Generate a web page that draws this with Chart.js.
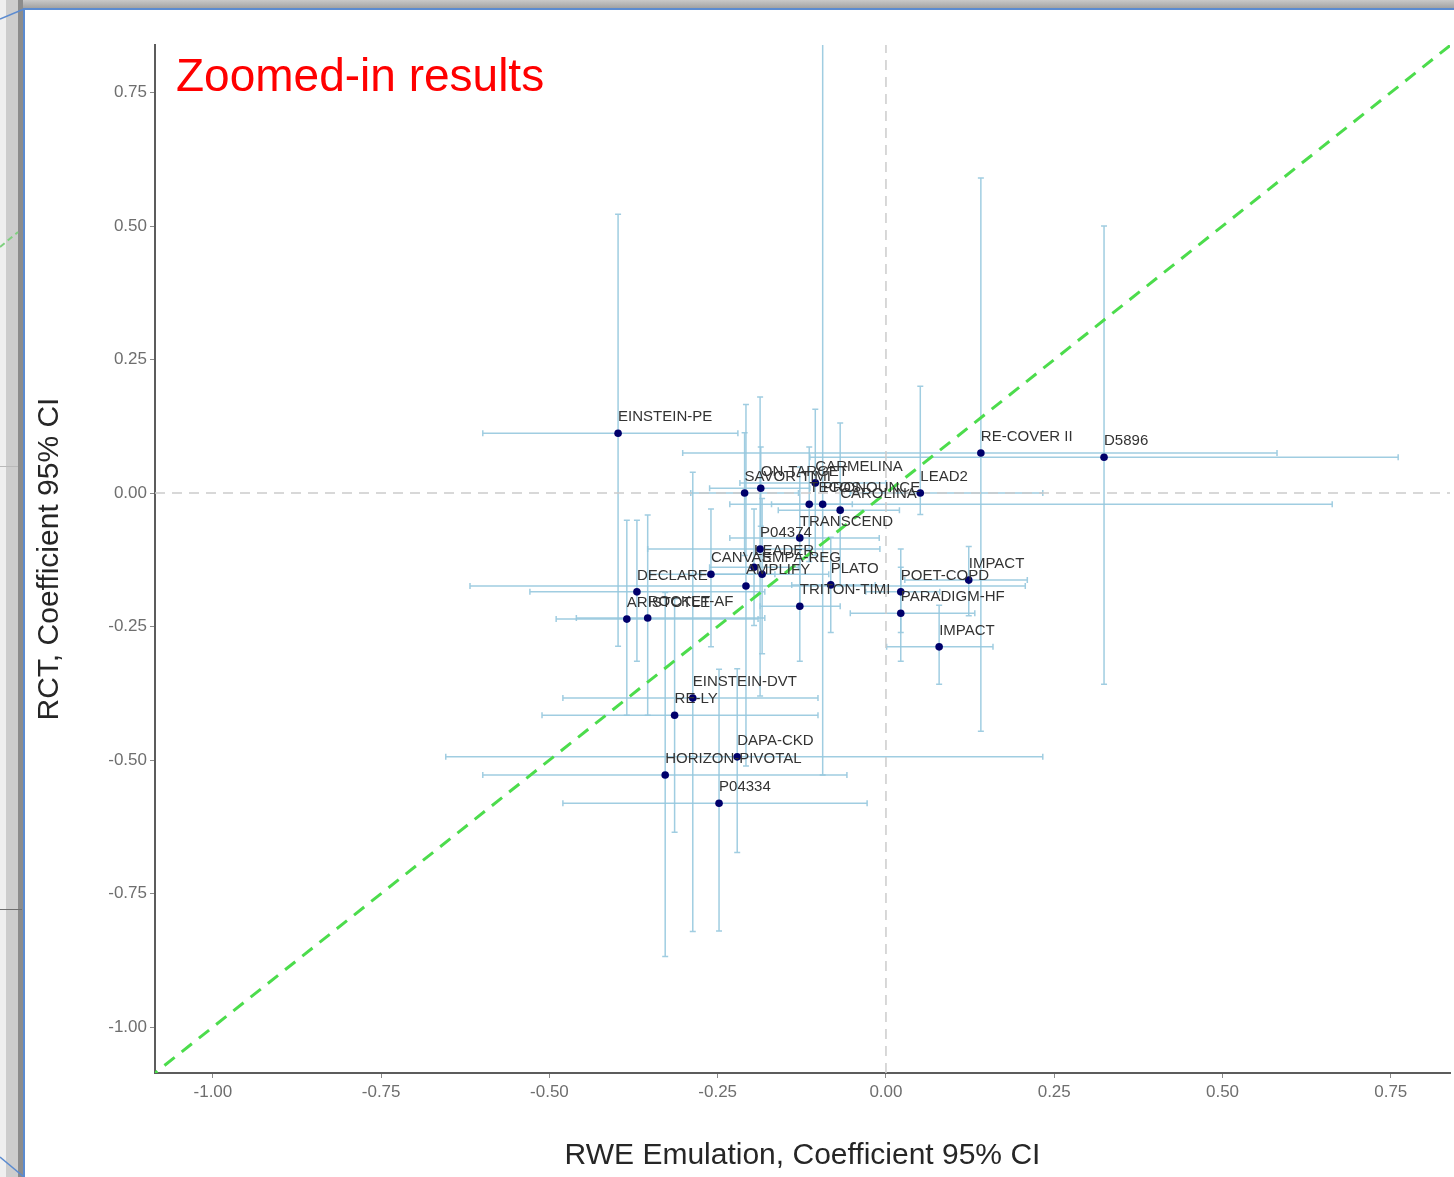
<!DOCTYPE html>
<html><head><meta charset="utf-8">
<script src="https://cdn.jsdelivr.net/npm/chart.js@4.4.1/dist/chart.umd.min.js"></script>
<style>
html,body{margin:0;padding:0;background:#fff;overflow:hidden;}
#wrap{position:relative;width:1454px;height:1177px;background:#fff;}
#c{position:absolute;left:0;top:0;}
.dec{position:absolute;}
svg.dec{left:0;top:0;}
</style></head><body>
<div id="wrap">
<canvas id="c" width="1454" height="1177"></canvas>
<div class="dec" style="left:0;top:0;width:1454px;height:8px;background:linear-gradient(#c9c9c9,#a2a2a2);"></div>
<div class="dec" style="left:0;top:0;width:6px;height:1177px;background:#efefef"></div>
<div class="dec" style="left:6px;top:0;width:12px;height:1177px;background:#cdcdcd"></div>
<div class="dec" style="left:18px;top:0;width:5px;height:1177px;background:#8c8c8c"></div>
<div class="dec" style="left:0;top:466px;width:18px;height:1px;background:#b9b9b9"></div>
<div class="dec" style="left:0;top:909px;width:22px;height:1px;background:#6f6f6f"></div>
<svg class="dec" width="30" height="1177">
  <line x1="0" y1="19" x2="24" y2="9" stroke="#5b8bd0" stroke-width="1.5"/>
  <line x1="0" y1="1157" x2="24" y2="1177" stroke="#5b8bd0" stroke-width="1.5"/>
  <line x1="0" y1="247" x2="18" y2="232" stroke="#7fd07f" stroke-width="2" stroke-dasharray="6,4"/>
</svg>
<div class="dec" style="left:23px;top:8px;width:2px;height:1169px;background:#5b8bd0"></div>
<div class="dec" style="left:23px;top:8px;width:1431px;height:2px;background:#5b8bd0"></div>
</div>
<script>
// ---- data (log hazard ratios) ----
const trials = ["EINSTEIN-PE","RE-COVER II","D5896","CARMELINA","ON-TARGET","SAVOR-TIMI","LEAD2","TECOS","PRONOUNCE","CAROLINA","TRANSCEND","P04374","LEADER","CANVAS","EMPA-REG","AMPLIFY","PLATO","TRITON-TIMI","POET-COPD","PARADIGM-HF","IMPACT","IMPACT","DECLARE","ARISTOTLE","ROCKET-AF","EINSTEIN-DVT","RE-LY","DAPA-CKD","HORIZON-PIVOTAL","P04334"];
const rweEst = [-0.398, 0.141, 0.324,-0.105,-0.186,-0.210, 0.051,-0.114,-0.094,-0.068,-0.128,-0.187,-0.196,-0.260,-0.184,-0.208,-0.082,-0.128, 0.022, 0.022, 0.123, 0.079,-0.370,-0.385,-0.354,-0.287,-0.314,-0.221,-0.328,-0.248];
const rweLo  = [-0.599,-0.302,-0.113,-0.217,-0.262,-0.290,-0.053,-0.170,-0.232,-0.160,-0.232,-0.354,-0.262,-0.350,-0.275,-0.618,-0.140,-0.187,-0.030,-0.053, 0.028, 0.001,-0.529,-0.490,-0.460,-0.480,-0.511,-0.654,-0.599,-0.480];
const rweHi  = [-0.220, 0.581, 0.761, 0.000,-0.113,-0.130, 0.233,-0.050, 0.663, 0.020,-0.010,-0.009,-0.130,-0.165,-0.085, 0.207,-0.016,-0.068, 0.080, 0.132, 0.210, 0.159,-0.180,-0.190,-0.180,-0.101,-0.101, 0.233,-0.058,-0.028];
const rctEst = [ 0.112, 0.075, 0.067, 0.019, 0.009, 0.000, 0.000,-0.021,-0.021,-0.032,-0.084,-0.105,-0.139,-0.152,-0.152,-0.174,-0.172,-0.212,-0.185,-0.225,-0.163,-0.288,-0.185,-0.236,-0.234,-0.384,-0.416,-0.494,-0.528,-0.581];
const rctLo  = [-0.287,-0.446,-0.358,-0.117,-0.062,-0.117,-0.040,-0.128,-0.528,-0.174,-0.211,-0.380,-0.248,-0.288,-0.301,-0.511,-0.261,-0.315,-0.261,-0.315,-0.230,-0.358,-0.315,-0.416,-0.416,-0.821,-0.635,-0.673,-0.868,-0.820];
const rctHi  = [ 0.522, 0.590, 0.500, 0.157, 0.086, 0.113, 0.200, 0.086, 1.030, 0.131, 0.049, 0.180,-0.030,-0.030,-0.010, 0.166,-0.083,-0.105,-0.105,-0.139,-0.100,-0.210,-0.051,-0.051,-0.041, 0.039,-0.198,-0.329,-0.186,-0.330];
const xTicks = [-1.00,-0.75,-0.50,-0.25,0.00,0.25,0.50,0.75];
const yTicks = [-1.00,-0.75,-0.50,-0.25,0.00,0.25,0.50,0.75];
const xRange = [-1.086, 0.838];
const yRange = [-1.086, 0.839];
const xTitle = "RWE Emulation, Coefficient 95% CI";
const yTitle = "RCT, Coefficient 95% CI";
const panelTitle = "Zoomed-in results";

const FONT = "'Liberation Sans', Arial, sans-serif";
Chart.defaults.font.family = FONT;

const errorBars = {
  id: 'errorBars',
  beforeDatasetsDraw(chart) {
    const {ctx, chartArea: a, scales: {x, y}} = chart;
    ctx.save();
    ctx.beginPath(); ctx.rect(a.left, a.top, a.right - a.left, a.bottom - a.top); ctx.clip();
    ctx.strokeStyle = 'rgba(150,200,222,0.9)';
    ctx.lineWidth = 1.5;
    const cap = 3;
    trials.forEach((t, i) => {
      const px = x.getPixelForValue(rweEst[i]), py = y.getPixelForValue(rctEst[i]);
      const x0 = x.getPixelForValue(rweLo[i]), x1 = x.getPixelForValue(rweHi[i]);
      const y0 = y.getPixelForValue(rctLo[i]), y1 = y.getPixelForValue(rctHi[i]);
      ctx.beginPath();
      ctx.moveTo(x0, py); ctx.lineTo(x1, py);
      ctx.moveTo(x0, py - cap); ctx.lineTo(x0, py + cap);
      ctx.moveTo(x1, py - cap); ctx.lineTo(x1, py + cap);
      ctx.moveTo(px, y0); ctx.lineTo(px, y1);
      ctx.moveTo(px - cap, y0); ctx.lineTo(px + cap, y0);
      ctx.moveTo(px - cap, y1); ctx.lineTo(px + cap, y1);
      ctx.stroke();
    });
    ctx.restore();
  }
};

const pointLabels = {
  id: 'pointLabels',
  afterDatasetsDraw(chart) {
    const {ctx, scales: {x, y}} = chart;
    ctx.save();
    ctx.font = "15px " + FONT;
    ctx.fillStyle = '#333333';
    ctx.textAlign = 'left';
    ctx.textBaseline = 'middle';
    trials.forEach((t, i) => {
      ctx.fillText(t, x.getPixelForValue(rweEst[i]), y.getPixelForValue(rctEst[i]) - 16);
    });
    ctx.restore();
  }
};

const panelTitlePlugin = {
  id: 'panelTitle',
  afterDraw(chart) {
    const ctx = chart.ctx;
    ctx.save();
    ctx.font = "46px " + FONT;
    ctx.fillStyle = '#ff0000';
    ctx.textAlign = 'left';
    ctx.textBaseline = 'alphabetic';
    ctx.fillText(panelTitle, 176, 91);
    ctx.restore();
  }
};

new Chart(document.getElementById('c'), {
  type: 'scatter',
  data: {
    datasets: [
      {
        data: trials.map((t, i) => ({x: rweEst[i], y: rctEst[i]})),
        backgroundColor: '#00006b', borderWidth: 0, pointRadius: 3.8, showLine: false
      },
      {
        data: [{x: -1.2, y: -1.2}, {x: 1.0, y: 1.0}],
        showLine: true, borderColor: '#4cdc4c', borderWidth: 3, borderDash: [13, 9], pointRadius: 0
      },
      {
        data: [{x: 0, y: yRange[0]}, {x: 0, y: yRange[1]}],
        showLine: true, borderColor: '#cccccc', borderWidth: 1.5, borderDash: [10, 7], pointRadius: 0
      },
      {
        data: [{x: xRange[0], y: 0}, {x: xRange[1], y: 0}],
        showLine: true, borderColor: '#cccccc', borderWidth: 1.5, borderDash: [10, 7], pointRadius: 0
      }
    ]
  },
  options: {
    responsive: false, animation: false, devicePixelRatio: 1, events: [],
    layout: {padding: {top: 45, left: 0, right: 0, bottom: 0}},
    plugins: {legend: {display: false}, tooltip: {enabled: false}},
    scales: {
      x: {
        type: 'linear', min: xRange[0], max: xRange[1],
        afterBuildTicks: s => { s.ticks = xTicks.map(v => ({value: v})); },
        afterFit: s => { s.height = 104; },
        ticks: {callback: v => Number(v).toFixed(2), color: '#6e6e6e', font: {size: 17}, padding: 4, maxRotation: 0, autoSkip: false},
        grid: {drawOnChartArea: false, drawTicks: true, tickLength: 5, color: '#8a8a8a'},
        border: {display: true, color: '#5c5c5c', width: 2},
        title: {display: true, text: xTitle, color: '#262626', font: {size: 30}, padding: {top: 0, bottom: 3}}
      },
      y: {
        type: 'linear', min: yRange[0], max: yRange[1],
        afterBuildTicks: s => { s.ticks = yTicks.map(v => ({value: v})); },
        afterFit: s => { s.width = 155; },
        ticks: {callback: v => Number(v).toFixed(2), color: '#6e6e6e', font: {size: 17}, padding: 3, autoSkip: false},
        grid: {drawOnChartArea: false, drawTicks: true, tickLength: 5, color: '#8a8a8a'},
        border: {display: true, color: '#5c5c5c', width: 2},
        title: {display: true, text: yTitle, color: '#262626', font: {size: 30}, padding: {top: 32, bottom: 0}}
      }
    }
  },
  plugins: [errorBars, pointLabels, panelTitlePlugin]
});
</script>
</body></html>
